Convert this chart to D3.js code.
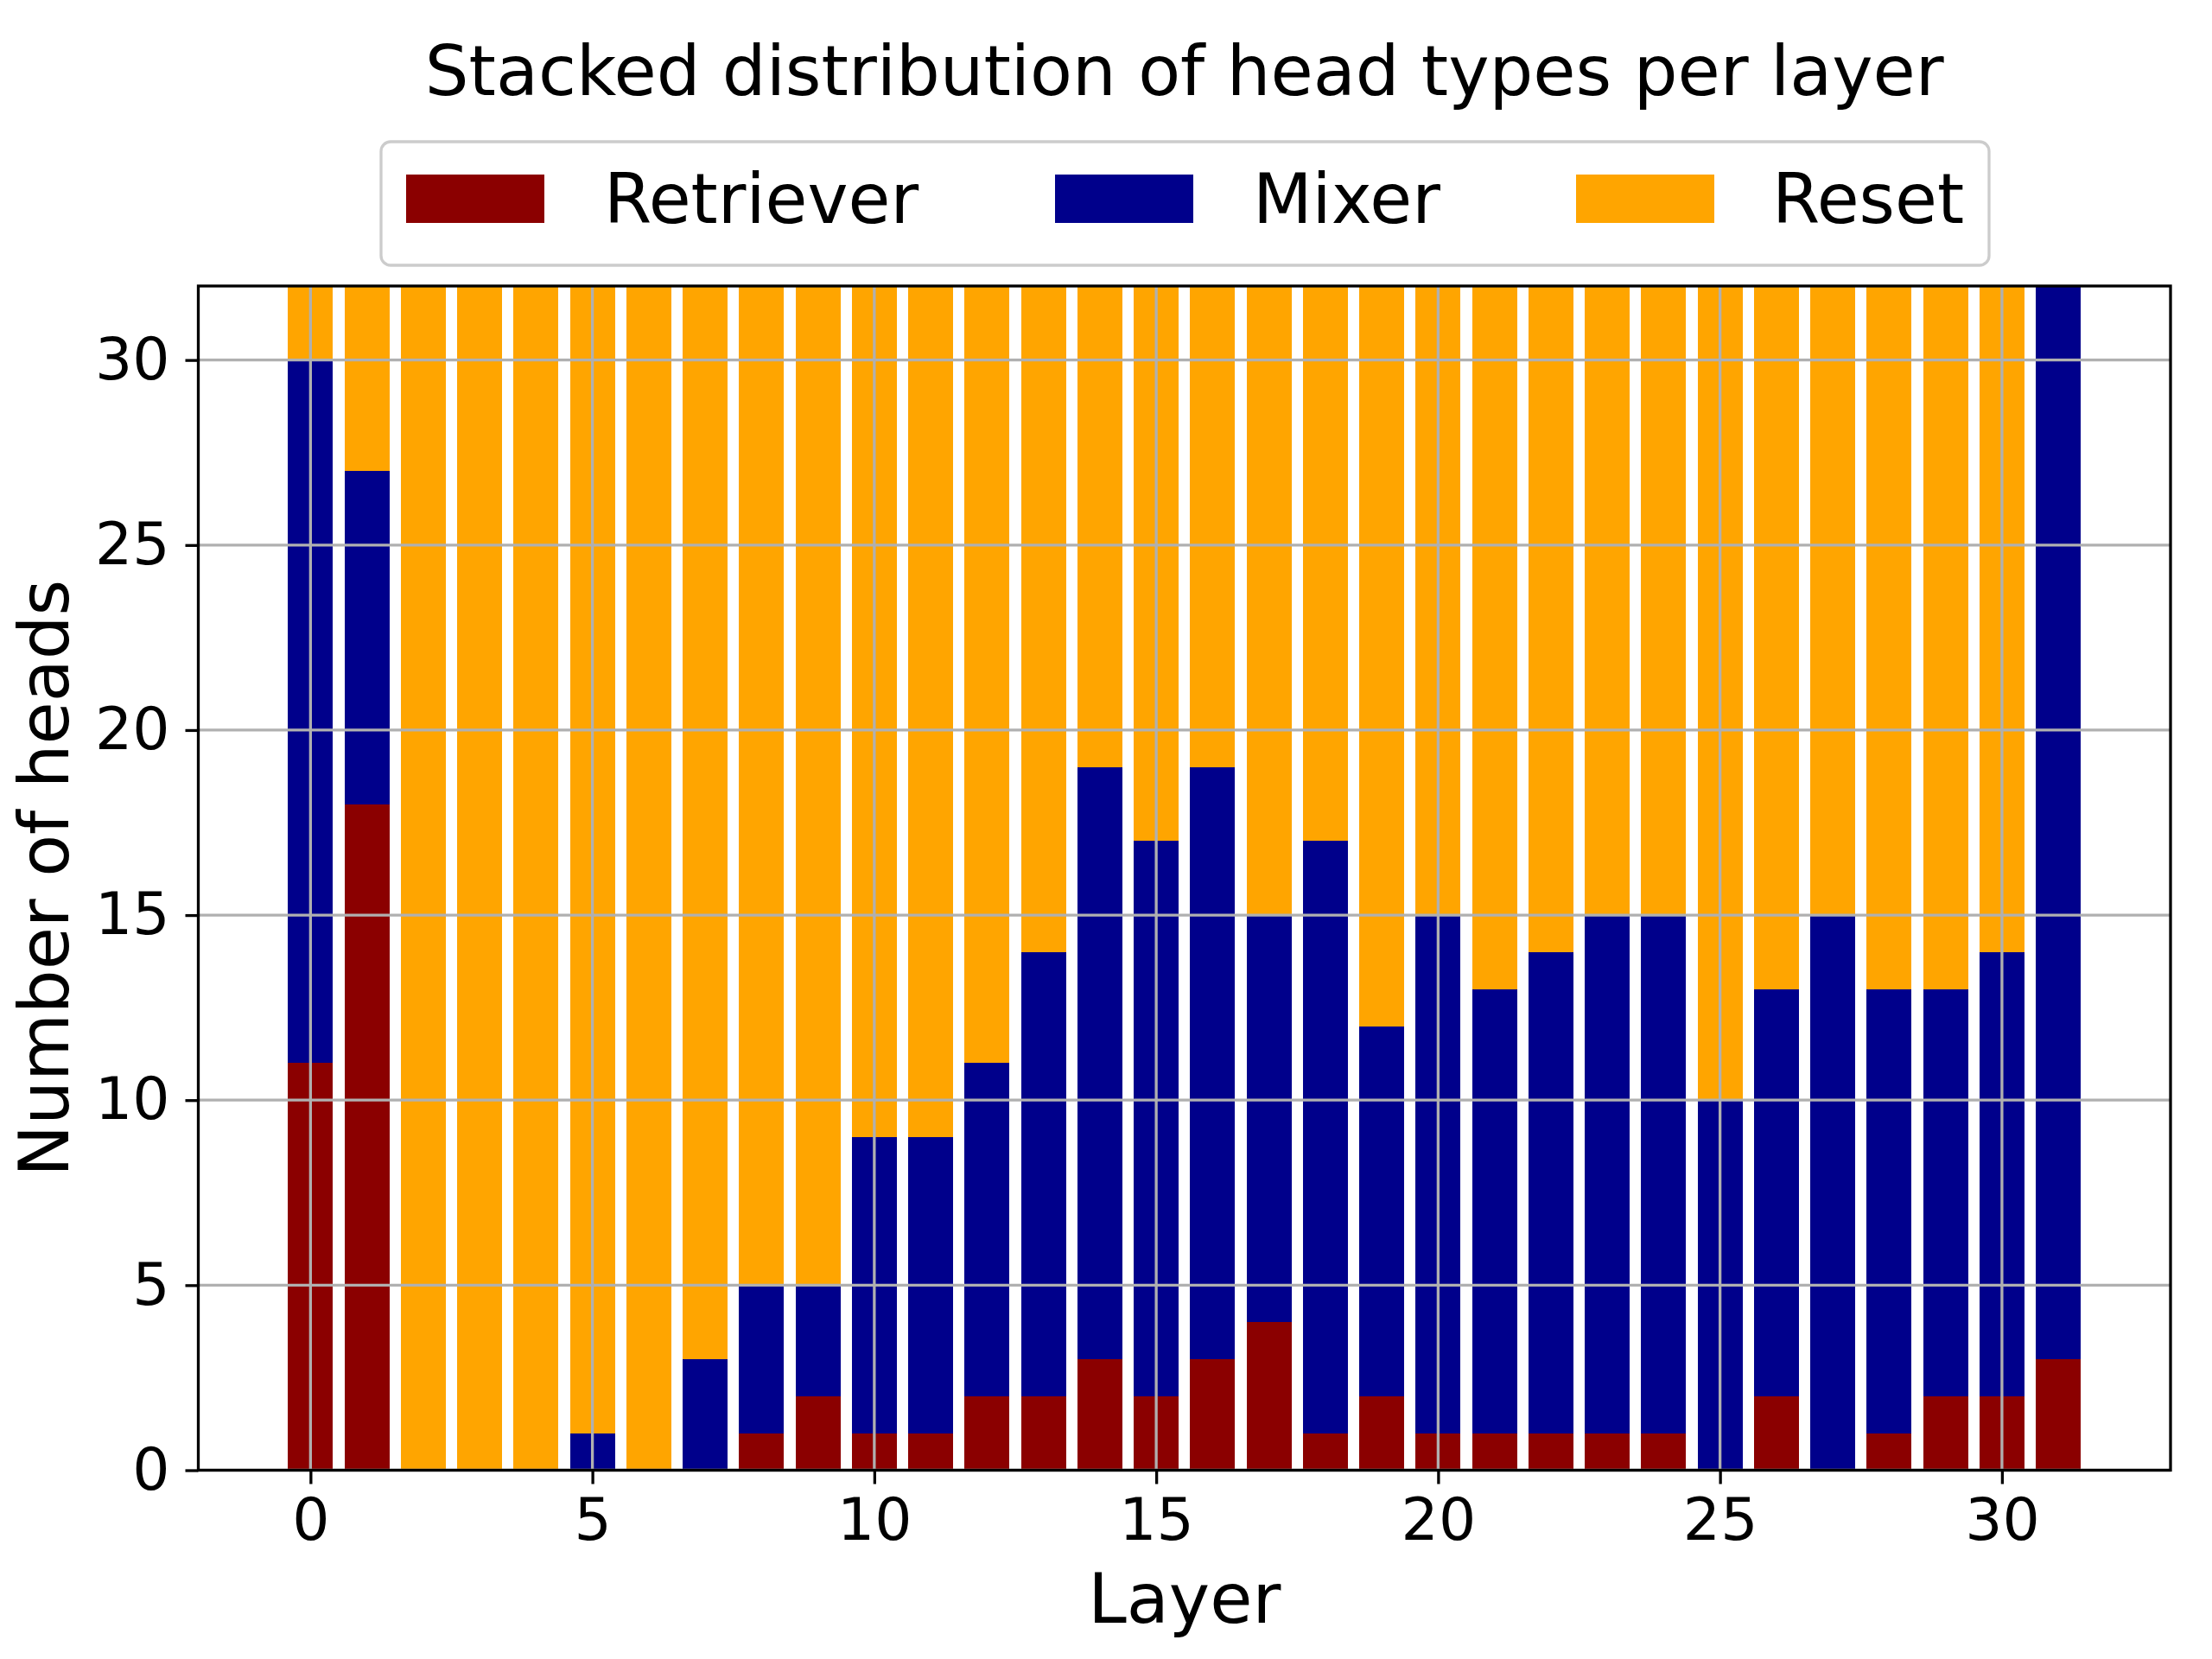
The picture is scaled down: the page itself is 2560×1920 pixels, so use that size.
<!DOCTYPE html>
<html>
<head>
<meta charset="utf-8">
<script src="https://cdn.jsdelivr.net/npm/d3@7"></script>
<style>
  html, body { margin: 0; padding: 0; background: #fff; }
  svg { display: block; }
  text { font-family: "DejaVu Sans", sans-serif; fill: #000; }
</style>
</head>
<body>
<svg id="chart" width="2560" height="1920"></svg>
<script>
// ---- Data ----
const layers = d3.range(0, 32);
const retriever = [11,18,0,0,0,0,0,0,1,2,1,1,2,2,3,2,3,4,1,2,1,1,1,1,1,0,2,0,1,2,2,3];
const mixer     = [19,9,0,0,0,1,0,3,4,3,8,8,9,12,16,15,16,11,16,10,14,12,13,14,14,10,11,15,12,11,12,29];
const reset     = [2,5,32,32,32,31,32,29,27,27,23,23,21,18,13,15,13,17,15,20,17,19,18,17,17,22,19,17,19,19,18,0];
const seriesNames = ["Retriever", "Mixer", "Reset"];
const seriesColors = ["#8b0000", "#00008b", "#ffa500"];
const xTicks = [0, 5, 10, 15, 20, 25, 30];
const yTicks = [0, 5, 10, 15, 20, 25, 30];
const title = "Stacked distribution of head types per layer";
const xLabel = "Layer";
const yLabel = "Number of heads";

// ---- Layout ----
const L = 229.5, R = 2512, T = 331, B = 1701.5;
const svg = d3.select("#chart");
svg.append("rect").attr("width", 2560).attr("height", 1920).attr("fill", "#fff");

const x = d3.scaleLinear().domain([-1.99, 32.99]).range([L, R]);
const y = d3.scaleLinear().domain([0, 32]).range([B, T]);
const barW = x(0.8) - x(0);

const rows = layers.map((l, i) => ({ layer: l, Retriever: retriever[i], Mixer: mixer[i], Reset: reset[i] }));
const stacked = d3.stack().keys(seriesNames)(rows);

svg.append("defs").append("clipPath").attr("id", "plotclip")
  .append("rect").attr("x", L).attr("y", T).attr("width", R - L).attr("height", B - T);

const plot = svg.append("g").attr("clip-path", "url(#plotclip)");
stacked.forEach((s, si) => {
  plot.append("g").attr("fill", seriesColors[si])
    .selectAll("rect").data(s).join("rect")
    .attr("x", d => x(d.data.layer) - barW / 2)
    .attr("width", barW)
    .attr("y", d => y(d[1]))
    .attr("height", d => Math.max(0, y(d[0]) - y(d[1])))
    .attr("shape-rendering", "crispEdges");
});

// grid (above bars, like matplotlib default)
const grid = svg.append("g").attr("stroke", "#b0b0b0").attr("stroke-width", 3.3);
xTicks.forEach(t => grid.append("line").attr("x1", x(t)).attr("x2", x(t)).attr("y1", T).attr("y2", B));
yTicks.forEach(t => grid.append("line").attr("x1", L).attr("x2", R).attr("y1", y(t)).attr("y2", y(t)));

// axes
const xAxis = d3.axisBottom(x).tickValues(xTicks).tickSize(16).tickPadding(16).tickFormat(d3.format("d"));
const yAxis = d3.axisLeft(y).tickValues(yTicks).tickSize(15).tickPadding(18).tickFormat(d3.format("d"));
const gx = svg.append("g").attr("transform", `translate(0,${B})`).call(xAxis);
const gy = svg.append("g").attr("transform", `translate(${L},0)`).call(yAxis);
[gx, gy].forEach(g => {
  g.select(".domain").remove();
  g.selectAll(".tick line").attr("stroke", "#000").attr("stroke-width", 3.3);
  g.selectAll(".tick text").attr("font-size", 68).attr("font-family", "DejaVu Sans").attr("fill", "#000");
});

// spines
svg.append("rect").attr("x", L).attr("y", T).attr("width", R - L).attr("height", B - T)
  .attr("fill", "none").attr("stroke", "#000").attr("stroke-width", 3.3);

// labels
svg.append("text").attr("x", (L + R) / 2).attr("y", 1878).attr("text-anchor", "middle")
  .attr("font-size", 80).text(xLabel);
svg.append("text").attr("transform", `translate(79,${(T + B) / 2}) rotate(-90)`).attr("text-anchor", "middle")
  .attr("font-size", 80).text(yLabel);
svg.append("text").attr("x", (L + R) / 2).attr("y", 110).attr("text-anchor", "middle")
  .attr("font-size", 80).text(title);

// legend
const lg = svg.append("g");
lg.append("rect").attr("x", 441).attr("y", 164).attr("width", 1861).attr("height", 143)
  .attr("rx", 11).attr("ry", 11).attr("fill", "#fff").attr("fill-opacity", 0.8)
  .attr("stroke", "#cccccc").attr("stroke-width", 3.3);
const patchX = [470, 1221, 1824];
const textX = [699, 1450, 2051];
seriesNames.forEach((n, i) => {
  lg.append("rect").attr("x", patchX[i]).attr("y", 202).attr("width", 160).attr("height", 56)
    .attr("fill", seriesColors[i]);
  lg.append("text").attr("x", textX[i]).attr("y", 258).attr("font-size", 79.5).text(n);
});
</script>
</body>
</html>
